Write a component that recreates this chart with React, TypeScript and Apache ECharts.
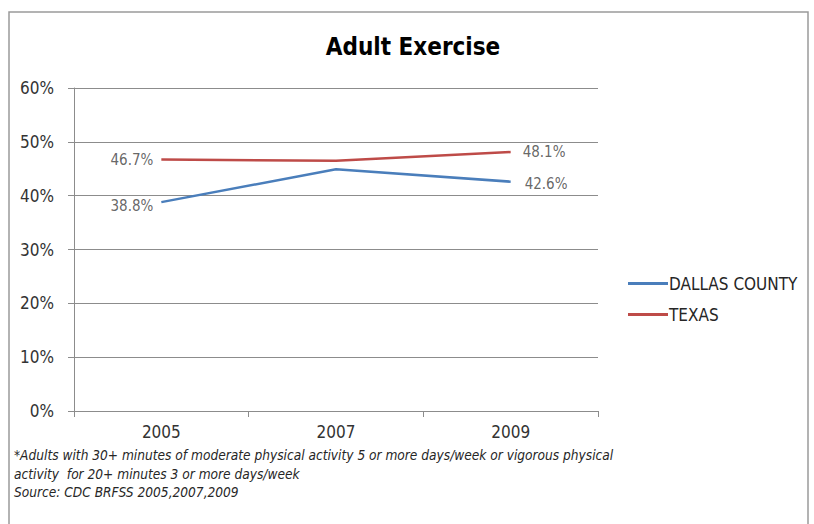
import React, { useEffect, useRef } from "react";
import * as echarts from "echarts";

const categories = ["2005", "2007", "2009"];
const dallas = [38.8, 44.9, 42.6];
const texas = [46.7, 46.5, 48.1];
const yTicks = [0, 10, 20, 30, 40, 50, 60];
const footnotes = [
  "*Adults with 30+ minutes of moderate physical activity 5 or more days/week or vigorous physical",
  "activity  for 20+ minutes 3 or more days/week",
  "Source: CDC BRFSS 2005,2007,2009",
];

export default function App() {
  const ref = useRef<HTMLDivElement>(null);
  useEffect(() => {
    const chart = echarts.init(ref.current!, null, { renderer: "svg" });
    const font = "DejaVu Sans Condensed, Open Sans, sans-serif";
    const mkLabel = () => ({
      show: true,
      color: "#404040",
      fontSize: 15,
      fontFamily: font,
      formatter: (p: any) => p.value.toFixed(1) + "%",
      position: "left" as const,
      distance: 8,
    });
    chart.setOption({
      animation: false,
      backgroundColor: "#ffffff",
      title: {
        text: "Adult Exercise",
        left: 408,
        top: 30,
        textAlign: "center",
        textStyle: { fontSize: 24, fontWeight: "bold", color: "#000", fontFamily: font },
      },
      grid: { left: 74, right: 216, top: 88, bottom: 113, containLabel: false },
      legend: {
        orient: "vertical",
        left: 623,
        top: 270,
        itemGap: 14,
        itemWidth: 40,
        itemHeight: 3,
        icon: "rect",
        textStyle: { fontSize: 17, color: "#262626", fontFamily: font, padding: [0, 0, 0, -4] },
        data: ["DALLAS COUNTY", "TEXAS"],
      },
      xAxis: {
        type: "category",
        data: categories,
        boundaryGap: true,
        axisLine: { lineStyle: { color: "#8c8c8c", width: 1 } },
        axisTick: { show: true, length: 6, inside: false, lineStyle: { color: "#8c8c8c" } },
        axisLabel: { color: "#333333", fontSize: 17, fontFamily: font, margin: 12 },
      },
      yAxis: {
        type: "value",
        min: 0,
        max: 60,
        interval: 10,
        axisLine: { show: true, lineStyle: { color: "#8c8c8c" } },
        axisTick: { show: true, length: 6, lineStyle: { color: "#8c8c8c" } },
        axisLabel: {
          color: "#333333",
          fontSize: 17,
          fontFamily: font,
          margin: 20,
          formatter: (v: number) => (yTicks.includes(v) ? v + "%" : ""),
        },
        splitLine: { show: true, lineStyle: { color: "#8c8c8c", width: 1 } },
      },
      series: [
        {
          name: "DALLAS COUNTY",
          type: "line",
          data: dallas,
          showSymbol: false,
          symbol: "none",
          lineStyle: { color: "#4a7ebb", width: 2.5 },
          itemStyle: { color: "#4a7ebb" },
        },
        {
          name: "TEXAS",
          type: "line",
          data: texas,
          showSymbol: false,
          symbol: "none",
          lineStyle: { color: "#be4b48", width: 2.5 },
          itemStyle: { color: "#be4b48" },
        },
        {
          name: "dallasLabels",
          type: "scatter",
          data: dallas.map((v, i) => (i === 1 ? null : v)),
          symbolSize: 0,
          silent: true,
          label: mkLabel(),
          labelLayout: (p: any) => (p.dataIndex === 0 ? { dy: 4 } : { dx: p.labelRect.width + 22, dy: 2 }),
        },
        {
          name: "texasLabels",
          type: "scatter",
          data: texas.map((v, i) => (i === 1 ? null : v)),
          symbolSize: 0,
          silent: true,
          label: mkLabel(),
          labelLayout: (p: any) => (p.dataIndex === 0 ? { dy: 0 } : { dx: p.labelRect.width + 20, dy: 0 }),
        },
      ],
      graphic: [
        {
          type: "rect",
          shape: { x: 9, y: 12, width: 799, height: 530 },
          style: { fill: "none", stroke: "#9a9a9a", lineWidth: 1.5 },
          silent: true,
        },
        ...footnotes.map((t, i) => ({
          type: "text",
          left: 14,
          top: 448 + i * 18.5,
          style: {
            text: t,
            fontSize: 13.6,
            fontStyle: "italic",
            fontFamily: font,
            fill: "#262626",
          },
        })),
      ],
    });
    return () => chart.dispose();
  }, []);
  return (
    <div
      ref={ref}
      style={{ position: "fixed", left: 0, top: 0, width: 814, height: 524 }}
    />
  );
}
